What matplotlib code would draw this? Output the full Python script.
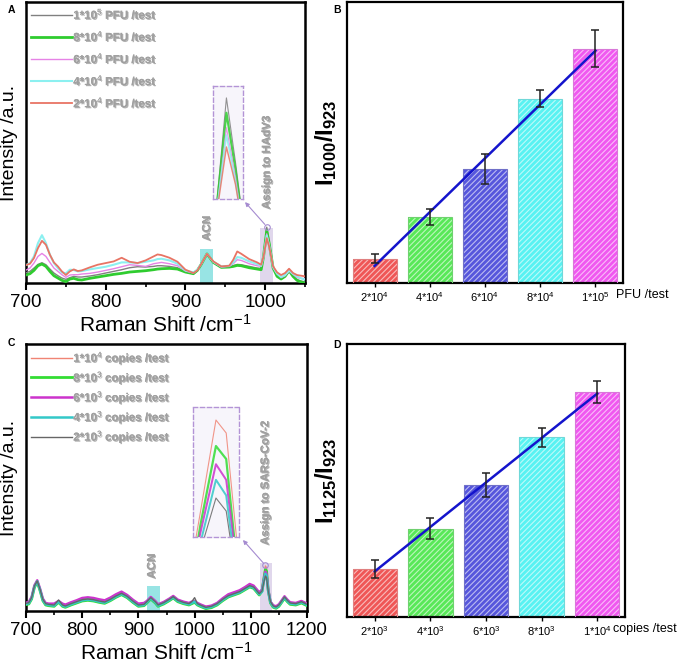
import matplotlib
matplotlib.use("Agg")
import matplotlib.pyplot as plt
import matplotlib.patheffects as pe
from matplotlib.patches import Rectangle
from matplotlib.ticker import MultipleLocator
import numpy as np

plt.rcParams["font.family"] = ["Liberation Sans", "DejaVu Sans"]
plt.rcParams["mathtext.fontset"] = "custom"
plt.rcParams["mathtext.rm"] = "Liberation Sans"
plt.rcParams["mathtext.bf"] = "Liberation Sans:bold"
plt.rcParams["mathtext.it"] = "Liberation Sans:italic"
plt.rcParams["hatch.linewidth"] = 0.8

# ---------------- panel A : HAdV3 spectra ----------------
A_X = [700, 705, 710, 715, 720, 725, 730, 735, 740, 745,
       750, 755, 760, 765, 770, 780, 790, 800, 810, 820,
       830, 840, 850, 860, 865, 870, 880, 890, 900, 910,
       915, 920, 927, 935, 945, 955, 960, 965, 970, 980,
       990, 995, 998, 1002, 1005, 1010, 1015, 1020, 1025, 1030,
       1035, 1040, 1045, 1050]
A_GRAY = [31, 35, 45, 56, 61, 55, 42, 30, 22, 15,
          11, 16, 20, 18, 18, 21, 25, 30, 35, 40,
          46, 49, 48, 50, 52, 52, 50, 46, 33, 28,
          38, 57, 88, 62, 48, 48, 52, 56, 55, 50,
          45, 44, 80, 168, 125, 46, 22, 13, 20, 36,
          22, 10, 6, 3]
A_GREEN = [24, 28, 38, 52, 57, 50, 35, 22, 15, 8,
           4, 12, 14, 10, 9, 14, 18, 22, 26, 29,
           33, 35, 37, 40, 42, 43, 44, 42, 33, 28,
           38, 57, 88, 62, 47, 48, 50, 53, 52, 46,
           42, 40, 80, 158, 120, 45, 20, 12, 20, 37,
           20, 8, 3, 0]
A_VIOLET = [39, 45, 60, 80, 89, 80, 62, 45, 35, 25,
            17, 24, 25, 25, 27, 29, 33, 38, 43, 49,
            55, 53, 50, 58, 60, 62, 58, 52, 36, 30,
            40, 58, 88, 63, 48, 50, 58, 70, 68, 58,
            52, 50, 78, 148, 115, 46, 28, 16, 22, 36,
            26, 16, 14, 13]
A_CYAN = [54, 60, 80, 120, 144, 120, 85, 60, 45, 32,
          29, 40, 39, 35, 36, 41, 45, 49, 55, 62,
          62, 60, 64, 68, 72, 73, 68, 58, 38, 32,
          40, 58, 89, 64, 50, 52, 62, 78, 76, 65,
          57, 52, 80, 143, 112, 48, 28, 18, 24, 38,
          28, 20, 14, 10]
A_RED = [54, 58, 75, 105, 127, 115, 85, 62, 50, 35,
         24, 35, 41, 36, 38, 47, 55, 60, 65, 76,
         64, 60, 68, 80, 86, 84, 76, 64, 40, 30,
         38, 58, 88, 65, 50, 52, 70, 95, 88, 72,
         62, 55, 80, 135, 110, 50, 32, 24, 30, 43,
         30, 24, 22, 20]
A_SERIES = [
    ("1*10$^5$ PFU /test", A_GRAY, "#808080", 1.0),
    ("8*10$^4$ PFU /test", A_GREEN, "#2fcc2f", 2.0),
    ("6*10$^4$ PFU /test", A_VIOLET, "#e683e6", 1.0),
    ("4*10$^4$ PFU /test", A_CYAN, "#8cf0f0", 1.5),
    ("2*10$^4$ PFU /test", A_RED, "#e87464", 1.3),
]
A_BANDS = [(918, 935, 103, "#7fdede"), (994, 1010, 165, "#d9cde8")]
A_NOTES = [("ACN", 927, 165), ("Assign to HAdV3", 1002, 363)]

# ---------------- panel C : SARS-CoV-2 spectra ----------------
C_X = [700, 705, 710, 715, 720, 725, 730, 735, 740, 750,
       758, 765, 770, 780, 790, 800, 810, 820, 830, 840,
       850, 860, 870, 880, 890, 900, 910, 915, 922, 930,
       935, 945, 955, 962, 970, 980, 990, 995, 1000, 1005,
       1010, 1020, 1030, 1040, 1050, 1060, 1070, 1080, 1090, 1098,
       1105, 1110, 1115, 1120, 1123, 1126, 1128, 1131, 1135, 1140,
       1145, 1150, 1155, 1160, 1165, 1170, 1180, 1190, 1200]
C_RED = [25, 27, 42, 77, 92, 67, 37, 24, 22, 20,
         30, 20, 17, 24, 30, 36, 38, 36, 32, 29,
         37, 47, 55, 46, 32, 20, 22, 30, 42, 30,
         20, 27, 37, 45, 34, 28, 24, 27, 30, 24,
         20, 13, 16, 24, 37, 48, 54, 60, 70, 78,
         74, 64, 54, 66, 100, 135, 130, 70, 30, 17,
         14, 20, 32, 44, 34, 26, 24, 30, 22]
C_GREEN = [19, 21, 36, 71, 87, 61, 31, 18, 16, 14,
           26, 14, 11, 18, 24, 30, 32, 30, 26, 23,
           31, 41, 49, 40, 26, 14, 16, 24, 36, 24,
           14, 21, 31, 39, 28, 22, 18, 22, 26, 18,
           14, 7, 10, 18, 31, 42, 48, 54, 64, 72,
           68, 58, 48, 60, 95, 125, 120, 62, 24, 11,
           8, 14, 26, 38, 28, 20, 18, 24, 16]
C_MAGENTA = [25, 27, 42, 77, 92, 67, 37, 24, 22, 22,
             30, 22, 19, 26, 32, 39, 41, 39, 35, 32,
             40, 50, 58, 48, 34, 22, 24, 30, 42, 30,
             20, 27, 37, 45, 34, 28, 24, 28, 30, 24,
             20, 13, 16, 24, 38, 50, 56, 62, 72, 81,
             76, 66, 56, 64, 92, 118, 112, 64, 28, 17,
             14, 20, 32, 44, 34, 26, 24, 30, 22]
C_CYAN = [21, 23, 38, 73, 89, 63, 33, 20, 18, 16,
          28, 16, 13, 20, 26, 32, 34, 32, 28, 25,
          33, 43, 51, 42, 28, 16, 18, 26, 38, 26,
          16, 23, 33, 41, 30, 24, 20, 24, 28, 20,
          16, 9, 12, 20, 33, 44, 50, 56, 66, 74,
          70, 60, 50, 58, 88, 112, 106, 60, 26, 13,
          10, 16, 28, 40, 30, 22, 20, 26, 18]
C_GRAY = [23, 25, 40, 75, 90, 65, 35, 22, 20, 18,
          33, 18, 15, 22, 28, 34, 36, 34, 30, 27,
          35, 45, 53, 44, 30, 18, 20, 28, 40, 28,
          18, 25, 35, 43, 32, 26, 22, 28, 40, 22,
          18, 11, 14, 22, 35, 46, 52, 58, 68, 76,
          72, 62, 52, 60, 85, 105, 100, 60, 28, 15,
          12, 18, 30, 42, 32, 24, 22, 28, 20]
C_SERIES = [
    ("1*10$^4$ copies /test", C_RED, "#f08474", 1.0),
    ("8*10$^3$ copies /test", C_GREEN, "#33dd33", 2.0),
    ("6*10$^3$ copies /test", C_MAGENTA, "#cc33cc", 1.8),
    ("4*10$^3$ copies /test", C_CYAN, "#33c8c8", 1.8),
    ("2*10$^3$ copies /test", C_GRAY, "#666666", 1.0),
]
C_BANDS = [(915, 939, 75, "#7fdede"), (1116, 1137, 143, "#d9cde8")]
C_NOTES = [("ACN", 924, 135), ("Assign to SARS-CoV-2", 1126, 385)]

# ---------------- panels B / D : ratio bars ----------------
B_LABELS = ["2*10$^4$", "4*10$^4$", "6*10$^4$", "8*10$^4$", "1*10$^5$"]
B_VALUES = [0.87, 2.35, 4.07, 6.56, 8.34]
B_ERRORS = [0.17, 0.30, 0.53, 0.30, 0.66]
D_LABELS = ["2*10$^3$", "4*10$^3$", "6*10$^3$", "8*10$^3$", "1*10$^4$"]
D_VALUES = [1.76, 3.24, 4.83, 6.58, 8.23]
D_ERRORS = [0.32, 0.38, 0.45, 0.35, 0.40]
BAR_COLORS = ["#ef5656", "#58e858", "#5656dc", "#58f2f2", "#f058f0"]
BAR_EDGES = ["#e08080", "#70d070", "#7070c8", "#70d8d8", "#d878d8"]

FIG_W, FIG_H = 682, 666
SHADOW = [pe.withSimplePatchShadow(offset=(0.8, -0.8), shadow_rgbFace="#555555", alpha=0.45),
          pe.Normal()]
NOTE_GRAY = "#a0a0a0"


def px_axes(fig, x0, y0, x1, y1):
    return fig.add_axes([x0 / FIG_W, 1 - y1 / FIG_H, (x1 - x0) / FIG_W, (y1 - y0) / FIG_H])


def spectra(ax, xs, series, bands, notes, xlim, ylim, inset_box, inset_lim, arrow_to,
            xmajor, spacing):
    for x0, x1, top, col in bands:
        ax.add_patch(Rectangle((x0, 0), x1 - x0, top, color=col, alpha=0.8, lw=0, zorder=1))
    for label, ys, col, lw in series:
        ax.plot(xs, ys, color=col, lw=lw, label=label, zorder=3)
    for txt, x, y in notes:
        ax.text(x, y, txt, rotation=90, ha="center", va="center", fontsize=8.3,
                fontweight="bold", color=NOTE_GRAY, path_effects=SHADOW, zorder=4)
    ax.set_xlim(*xlim)
    ax.set_ylim(*ylim)
    ax.xaxis.set_major_locator(MultipleLocator(xmajor))
    ax.xaxis.set_minor_locator(MultipleLocator(xmajor / 2))
    ax.tick_params(axis="x", which="major", direction="out", length=5, width=1.5,
                   labelsize=13.5, pad=3)
    ax.tick_params(axis="x", which="minor", direction="out", length=3, width=1.2)
    ax.set_yticks([])
    for s in ax.spines.values():
        s.set_linewidth(1.8)
    ax.set_xlabel("Raman Shift /cm$^{-1}$", fontsize=15, labelpad=2)
    ax.set_ylabel("Intensity /a.u.", fontsize=14)
    ax.yaxis.set_label_coords(-0.027, 0.5)

    leg = ax.legend(loc="upper left", frameon=False, handlelength=3.6,
                    handletextpad=0.1, labelspacing=spacing, borderaxespad=0.3,
                    borderpad=0.1, prop={"weight": "bold", "size": 8.3})
    for t in leg.get_texts():
        t.set_color(NOTE_GRAY)
        t.set_path_effects(SHADOW)

    # zoomed view of the assigned peak
    ins = ax.inset_axes(inset_box)
    ins.set_facecolor("#f7f5fb")
    for label, ys, col, lw in series:
        ins.plot(xs, ys, color=col, lw=lw * 0.8, alpha=0.85)
    ins.set_xlim(*inset_lim[0])
    ins.set_ylim(*inset_lim[1])
    ins.set_xticks([])
    ins.set_yticks([])
    for s in ins.spines.values():
        s.set_linestyle((0, (3, 2)))
        s.set_color("#b394d6")
        s.set_linewidth(1.0)

    peak_i = int(np.argmax(series[0][1]))
    peak_x = xs[peak_i]
    peak_y = max(max(ys) for _, ys, _, _ in series) + 2
    ax.plot(peak_x, peak_y, "o", mfc="none", mec="#a58bd0", ms=4, mew=0.8, zorder=5)
    ax.annotate("", xy=arrow_to, xycoords="axes fraction", xytext=(peak_x, peak_y),
                textcoords="data",
                arrowprops=dict(arrowstyle="-|>", color="#a58bd0", lw=0.8,
                                mutation_scale=6, shrinkA=2, shrinkB=0), zorder=5)


def bars(ax, labels, values, errors, unit, unit_x, ylabel):
    x = np.arange(len(values))
    ax.bar(x, values, width=0.8, color=BAR_COLORS, edgecolor=(1, 1, 1, 0.6),
           hatch="//////", lw=0, zorder=2)
    ax.bar(x, values, width=0.8, fill=False, edgecolor=BAR_EDGES, lw=0.8, zorder=3)
    ax.errorbar(x, values, yerr=errors, fmt="none", ecolor="#222222", elinewidth=1.1,
                capsize=3, capthick=1.1, zorder=5)
    slope, intercept = np.polyfit(x, values, 1)
    ax.plot(x[[0, -1]], intercept + slope * x[[0, -1]], color="#1414cc", lw=1.8, zorder=4)
    ax.set_xlim(-0.5, len(values) - 0.5)
    ax.set_ylim(0, 10)
    ax.set_xticks(x)
    ax.set_xticklabels(labels)
    ax.tick_params(axis="x", direction="out", length=3, width=1.0, labelsize=8, pad=2)
    ax.set_yticks([])
    for s in ax.spines.values():
        s.set_linewidth(1.6)
    ax.text(unit_x, -0.022, unit, transform=ax.transAxes, ha="left", va="top", fontsize=9)
    ax.set_ylabel(ylabel, fontsize=17)
    ax.yaxis.set_label_coords(-0.03, 0.5)


fig = plt.figure(figsize=(FIG_W / 100, FIG_H / 100), dpi=100)

ax_a = px_axes(fig, 26, 2, 305, 283)
spectra(ax_a, A_X, A_SERIES, A_BANDS, A_NOTES, (700, 1050), (0, 846),
        [0.670, 0.299, 0.1075, 0.402], ((997.5, 1007.5), (100, 176)), (0.785, 0.288),
        100, 0.6)

ax_b = px_axes(fig, 347, 2, 623, 283)
bars(ax_b, B_LABELS, B_VALUES, B_ERRORS, "PFU /test", 0.975,
     r"$\mathbf{I_{1000}/I_{923}}$")

ax_c = px_axes(fig, 26, 344, 307, 611)
spectra(ax_c, C_X, C_SERIES, C_BANDS, C_NOTES, (700, 1200), (0, 801),
        [0.594, 0.277, 0.164, 0.487], ((1121.5, 1130.5), (90, 140)), (0.772, 0.266),
        100, 0.13)

ax_d = px_axes(fig, 347, 344, 625, 617)
bars(ax_d, D_LABELS, D_VALUES, D_ERRORS, "copies /test", 0.957,
     r"$\mathbf{I_{1125}/I_{923}}$")

for letter, x, y in [("A", 8, 10), ("B", 333, 10), ("C", 8, 343), ("D", 333, 345)]:
    fig.text(x / FIG_W, 1 - y / FIG_H, letter, fontsize=7.5, fontweight="bold",
             ha="left", va="center")

fig.savefig("out.png", dpi=100)
